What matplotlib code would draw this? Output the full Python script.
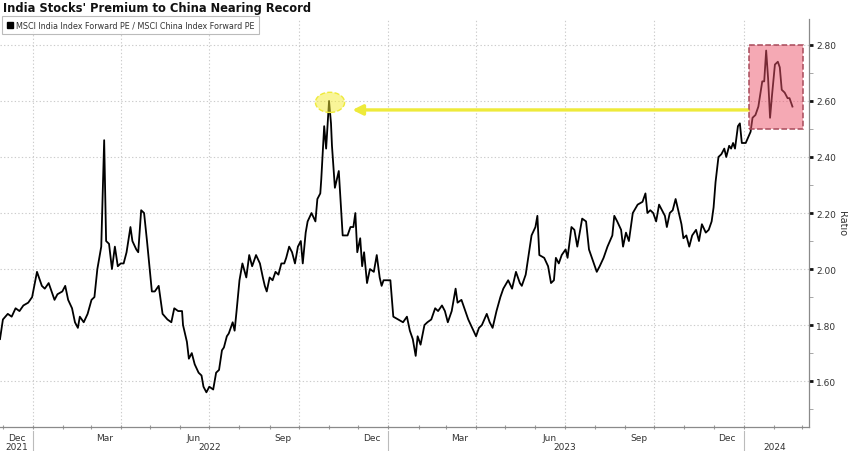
import matplotlib
matplotlib.use('Agg')
import matplotlib.pyplot as plt
import matplotlib.dates as mdates
import numpy as np
import pandas as pd
from matplotlib.lines import Line2D
from matplotlib.patches import Rectangle, Ellipse
from matplotlib.ticker import MultipleLocator, FormatStrFormatter
from matplotlib.transforms import blended_transform_factory

title = "India Stocks' Premium to China Nearing Record"
series_name = 'MSCI India Index Forward PE / MSCI China Index Forward PE'

dates = [
    '2021-11-28', '2021-12-01', '2021-12-06', '2021-12-10', '2021-12-14', '2021-12-18', '2021-12-22', '2021-12-27', '2021-12-31',
    '2022-01-05', '2022-01-10', '2022-01-13', '2022-01-17', '2022-01-20', '2022-01-23', '2022-01-26', '2022-01-31',
    '2022-02-03', '2022-02-06', '2022-02-10', '2022-02-13', '2022-02-16', '2022-02-18', '2022-02-22', '2022-02-26',
    '2022-03-02', '2022-03-05', '2022-03-08', '2022-03-12', '2022-03-15', '2022-03-17', '2022-03-20', '2022-03-23', '2022-03-26', '2022-03-29',
    '2022-04-01', '2022-04-04', '2022-04-07', '2022-04-11', '2022-04-13', '2022-04-17', '2022-04-19', '2022-04-22', '2022-04-25', '2022-04-28',
    '2022-05-03', '2022-05-06', '2022-05-10', '2022-05-14', '2022-05-19', '2022-05-23', '2022-05-26', '2022-05-30',
    '2022-06-03', '2022-06-04', '2022-06-08', '2022-06-10', '2022-06-13', '2022-06-16', '2022-06-20', '2022-06-23', '2022-06-25', '2022-06-28',
    '2022-07-01', '2022-07-05', '2022-07-08', '2022-07-11', '2022-07-14', '2022-07-16', '2022-07-19', '2022-07-21', '2022-07-25', '2022-07-27', '2022-07-29',
    '2022-08-01', '2022-08-04', '2022-08-08', '2022-08-11', '2022-08-14', '2022-08-18', '2022-08-22', '2022-08-25', '2022-08-27', '2022-08-29',
    '2022-09-01', '2022-09-04', '2022-09-07', '2022-09-10', '2022-09-13', '2022-09-16', '2022-09-18', '2022-09-21', '2022-09-24', '2022-09-27', '2022-09-30',
    '2022-10-03', '2022-10-05', '2022-10-08', '2022-10-10', '2022-10-14', '2022-10-18', '2022-10-20', '2022-10-23', '2022-10-24', '2022-10-27', '2022-10-29',
    '2022-11-01', '2022-11-03', '2022-11-04', '2022-11-07', '2022-11-11', '2022-11-15', '2022-11-20', '2022-11-23', '2022-11-26', '2022-11-28', '2022-11-30',
    '2022-12-03', '2022-12-05', '2022-12-07', '2022-12-10', '2022-12-13', '2022-12-17', '2022-12-20', '2022-12-23', '2022-12-25', '2022-12-27',
    '2023-01-03', '2023-01-06', '2023-01-11', '2023-01-16', '2023-01-20', '2023-01-23', '2023-01-26', '2023-01-29', '2023-01-31',
    '2023-02-03', '2023-02-07', '2023-02-10', '2023-02-14', '2023-02-18', '2023-02-21', '2023-02-25', '2023-02-28',
    '2023-03-03', '2023-03-07', '2023-03-11', '2023-03-13', '2023-03-17', '2023-03-20', '2023-03-24', '2023-03-28',
    '2023-04-01', '2023-04-04', '2023-04-07', '2023-04-12', '2023-04-15', '2023-04-18', '2023-04-22', '2023-04-26', '2023-04-29',
    '2023-05-04', '2023-05-08', '2023-05-12', '2023-05-16', '2023-05-18', '2023-05-22', '2023-05-25', '2023-05-28',
    '2023-06-01', '2023-06-03', '2023-06-05', '2023-06-10', '2023-06-14', '2023-06-17', '2023-06-20', '2023-06-22', '2023-06-25', '2023-06-28',
    '2023-07-02', '2023-07-04', '2023-07-08', '2023-07-11', '2023-07-14', '2023-07-19', '2023-07-23', '2023-07-26', '2023-07-29',
    '2023-08-03', '2023-08-06', '2023-08-10', '2023-08-14', '2023-08-19', '2023-08-21', '2023-08-24', '2023-08-28', '2023-08-30',
    '2023-09-02', '2023-09-05', '2023-09-09', '2023-09-14', '2023-09-19', '2023-09-22', '2023-09-24', '2023-09-27', '2023-09-30',
    '2023-10-03', '2023-10-06', '2023-10-09', '2023-10-12', '2023-10-14', '2023-10-17', '2023-10-20', '2023-10-23', '2023-10-25', '2023-10-29', '2023-10-31',
    '2023-11-03', '2023-11-06', '2023-11-09', '2023-11-13', '2023-11-16', '2023-11-19', '2023-11-23', '2023-11-26', '2023-11-29',
    '2023-12-01', '2023-12-03', '2023-12-06', '2023-12-09', '2023-12-12', '2023-12-14', '2023-12-17', '2023-12-19', '2023-12-21', '2023-12-23', '2023-12-26', '2023-12-28', '2023-12-30',
    '2024-01-03', '2024-01-08', '2024-01-10', '2024-01-13', '2024-01-16', '2024-01-20', '2024-01-22', '2024-01-24', '2024-01-26', '2024-01-28', '2024-01-30',
    '2024-02-02', '2024-02-05', '2024-02-07', '2024-02-09', '2024-02-12', '2024-02-15', '2024-02-17', '2024-02-20',
]

ratio = [
    1.75, 1.82, 1.84, 1.83, 1.86, 1.85, 1.87, 1.88, 1.90,
    1.99, 1.94, 1.93, 1.95, 1.92, 1.89, 1.91, 1.92,
    1.94, 1.89, 1.86, 1.81, 1.79, 1.83, 1.81, 1.84,
    1.89, 1.90, 2.00, 2.08, 2.46, 2.10, 2.09, 2.00, 2.08, 2.01,
    2.02, 2.02, 2.06, 2.15, 2.10, 2.07, 2.06, 2.21, 2.20, 2.10,
    1.92, 1.92, 1.94, 1.84, 1.82, 1.81, 1.86, 1.85,
    1.85, 1.80, 1.74, 1.68, 1.70, 1.66, 1.63, 1.62, 1.58, 1.56,
    1.58, 1.57, 1.63, 1.64, 1.71, 1.72, 1.76, 1.77, 1.81, 1.78, 1.85,
    1.96, 2.02, 1.97, 2.05, 2.01, 2.05, 2.02, 1.97, 1.94, 1.92,
    1.97, 1.96, 1.99, 1.98, 2.02, 2.02, 2.04, 2.08, 2.06, 2.02, 2.08,
    2.10, 2.02, 2.13, 2.17, 2.20, 2.17, 2.25, 2.27, 2.32, 2.51, 2.43,
    2.60, 2.52, 2.44, 2.29, 2.35, 2.12, 2.12, 2.15, 2.15, 2.20, 2.06,
    2.11, 2.01, 2.06, 1.95, 2.00, 1.99, 2.05, 1.97, 1.94, 1.96,
    1.96, 1.83, 1.82, 1.81, 1.83, 1.78, 1.75, 1.69, 1.76,
    1.73, 1.80, 1.81, 1.82, 1.86, 1.85, 1.87, 1.85,
    1.81, 1.85, 1.93, 1.88, 1.89, 1.86, 1.82, 1.79,
    1.76, 1.79, 1.80, 1.84, 1.81, 1.79, 1.85, 1.90, 1.93,
    1.96, 1.93, 1.99, 1.95, 1.94, 1.98, 2.05, 2.12,
    2.15, 2.19, 2.05, 2.04, 2.01, 1.95, 1.96, 2.04, 2.02, 2.05,
    2.07, 2.04, 2.15, 2.14, 2.08, 2.18, 2.17, 2.07, 2.04,
    1.99, 2.01, 2.04, 2.08, 2.12, 2.19, 2.17, 2.14, 2.08,
    2.13, 2.10, 2.20, 2.23, 2.24, 2.27, 2.20, 2.21, 2.20,
    2.17, 2.23, 2.21, 2.19, 2.15, 2.20, 2.21, 2.25, 2.22, 2.16, 2.11,
    2.12, 2.08, 2.12, 2.14, 2.10, 2.16, 2.13, 2.14, 2.17,
    2.22, 2.31, 2.40, 2.41, 2.43, 2.40, 2.44, 2.43, 2.45, 2.43, 2.51, 2.52, 2.45,
    2.45, 2.49, 2.54, 2.55, 2.58, 2.67, 2.67, 2.78, 2.68, 2.54, 2.62,
    2.73, 2.74, 2.72, 2.64, 2.63, 2.61, 2.61, 2.58,
]

month_labels = ['Dec', 'Mar', 'Jun', 'Sep', 'Dec', 'Mar', 'Jun', 'Sep', 'Dec']
month_label_dates = ['2021-12-15', '2022-03-15', '2022-06-15', '2022-09-15', '2022-12-15',
                     '2023-03-15', '2023-06-15', '2023-09-15', '2023-12-15']
year_labels = ['2021', '2022', '2023', '2024']
year_label_dates = ['2021-12-15', '2022-07-01', '2023-07-01', '2024-02-02']
year_starts = ['2022-01-01', '2023-01-01', '2024-01-01']

# highlight annotations
box_start, box_end, box_low, box_high = '2024-01-06', '2024-03-02', 2.50, 2.80
arrow_from, arrow_to, arrow_level = '2024-01-06', '2022-11-25', 2.568
circle_date, circle_level = '2022-11-02', 2.595

x = pd.to_datetime(dates)

fig = plt.figure(figsize=(8.48, 4.52), dpi=100)
ax = fig.add_axes([0.0, 0.053, 0.954, 0.903])

ax.plot(x, ratio, color='black', linewidth=1.3, zorder=3)

ax.set_xlim(pd.Timestamp('2021-11-28'), pd.Timestamp('2024-03-08'))
ax.set_ylim(1.436, 2.893)

for s in ['left', 'top']:
    ax.spines[s].set_visible(False)
for s in ['right', 'bottom']:
    ax.spines[s].set_color('#8a8a8a')
    ax.spines[s].set_linewidth(0.9)

# y axis on the right
ax.yaxis.tick_right()
ax.yaxis.set_major_locator(MultipleLocator(0.2))
ax.yaxis.set_minor_locator(MultipleLocator(0.1))
ax.yaxis.set_major_formatter(FormatStrFormatter('%.2f'))
ax.tick_params(axis='y', which='major', labelsize=6.5, length=3, width=2, color='#111111',
               labelcolor='#333333', pad=2)
ax.tick_params(axis='y', which='minor', length=3, width=0.6, color='#999999')
ax.yaxis.set_label_position('right')
ax.set_ylabel('Ratio', rotation=270, fontsize=7, color='#333333', labelpad=8)

# x axis: month tick marks, labels at mid-month
ax.xaxis.set_major_locator(mdates.MonthLocator())
ax.xaxis.set_major_formatter(plt.NullFormatter())
ax.tick_params(axis='x', which='major', length=3, width=0.8, color='#999999', direction='inout')
ax.set_xticks(pd.to_datetime(month_label_dates), minor=True)
ax.set_xticklabels(month_labels, minor=True)
ax.tick_params(axis='x', which='minor', length=0, labelsize=6.5, labelcolor='#333333', pad=4)

trans = blended_transform_factory(ax.transData, ax.transAxes)
for lab, d in zip(year_labels, year_label_dates):
    ax.text(pd.Timestamp(d), -0.047, lab, transform=trans, ha='center', va='center',
            fontsize=6.5, color='#333333', clip_on=False)
for d in year_starts:
    ax.plot([pd.Timestamp(d)] * 2, [-0.01, -0.06], transform=trans, color='#bbbbbb',
            linewidth=0.8, clip_on=False)

# dotted grid
ax.grid(axis='y', which='major', linestyle=(0, (1.2, 2)), color='#cccccc', linewidth=0.8)
for q in pd.date_range('2022-01-01', '2024-01-01', freq='QS'):
    ax.axvline(q, linestyle=(0, (1.2, 2)), color='#cccccc', linewidth=0.8, zorder=1)

# highlight box
b0 = mdates.date2num(pd.Timestamp(box_start))
b1 = mdates.date2num(pd.Timestamp(box_end))
ax.add_patch(Rectangle((b0, box_low), b1 - b0, box_high - box_low,
                       facecolor=(0.93, 0.33, 0.42, 0.5), edgecolor='#a84a5a',
                       linestyle='--', linewidth=1.1, zorder=5))

# yellow arrow and circle
ax.annotate('', xy=(pd.Timestamp(arrow_to), arrow_level), xytext=(pd.Timestamp(arrow_from), arrow_level),
            arrowprops=dict(arrowstyle='-|>,head_length=0.6,head_width=0.3', color='#eeea3a',
                            lw=2.4, shrinkA=0, shrinkB=0), zorder=4)
ax.add_patch(Ellipse((mdates.date2num(pd.Timestamp(circle_date)), circle_level), 30, 0.072,
                     facecolor=(0.96, 0.93, 0.2, 0.5), edgecolor='#eeea3a', linestyle='--',
                     linewidth=1.0, zorder=4))

# legend
handle = Line2D([], [], marker='s', color='black', linestyle='None', markersize=5)
leg = ax.legend([handle], [series_name], loc='upper left', bbox_to_anchor=(2 / 848, 1 - 17 / 452),
                bbox_transform=fig.transFigure, fontsize=5.8, frameon=True, fancybox=False,
                handletextpad=0.2, borderpad=0.55, handlelength=1.0, borderaxespad=0)
leg.get_frame().set_edgecolor('#aaaaaa')
leg.get_frame().set_linewidth(0.8)
for t in leg.get_texts():
    t.set_color('#333333')

fig.text(0.003, 0.982, title, fontsize=8.3, fontweight='bold', va='center', ha='left', color='#111111')

plt.savefig('out.png', dpi=100)
